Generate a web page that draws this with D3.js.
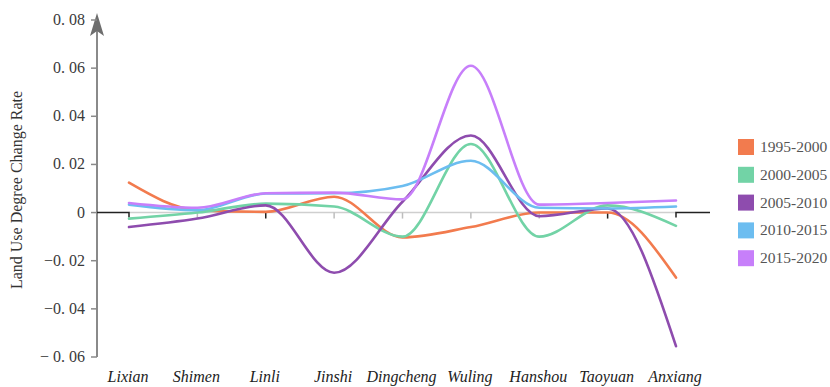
<!DOCTYPE html>
<html>
<head>
<meta charset="utf-8">
<script src="https://cdn.jsdelivr.net/npm/d3@7"></script>
<style>
  body { margin: 0; background: #fff; }
  text { font-family: "Liberation Serif", "DejaVu Serif", serif; }
</style>
</head>
<body>
<svg id="chart" width="830" height="387"></svg>
<script>
const counties = ['Lixian', 'Shimen', 'Linli', 'Jinshi', 'Dingcheng', 'Wuling', 'Hanshou', 'Taoyuan', 'Anxiang'];
const periods = ['1995-2000', '2000-2005', '2005-2010', '2010-2015', '2015-2020'];
const colors = ['#f27b4e', '#72d3a6', '#8e4cae', '#6cbdf0', '#c77ffa'];

const r1995 = [0.0124, 0.001, 0.0003, 0.0066, -0.0103, -0.006, 0.0, 0.0, -0.027];
const r2000 = [-0.0025, 0.0, 0.0037, 0.0025, -0.0100, 0.0285, -0.0100, 0.003, -0.0055];
const r2005 = [-0.006, -0.0025, 0.003, -0.025, 0.0045, 0.032, -0.0015, 0.0017, -0.0555];
const r2010 = [0.0033, 0.001, 0.0079, 0.008, 0.011, 0.0215, 0.002, 0.0017, 0.0025];
const r2015 = [0.004, 0.002, 0.008, 0.0083, 0.0055, 0.061, 0.0033, 0.004, 0.005];
const series = [r1995, r2000, r2005, r2010, r2015];

const yTicks = [0.08, 0.06, 0.04, 0.02, 0, -0.02, -0.04, -0.06];
const yTickLabels = ['0. 08', '0. 06', '0. 04', '0. 02', '0', '\u22120. 02', '\u22120. 04', '\u2212 0. 06'];

const svg = d3.select('#chart');

const x = d3.scalePoint().domain(counties).range([129, 676]);
const y = d3.scaleLinear().domain([-0.06, 0.08]).range([357, 20]);

// y axis line with arrow
const axisX = 97;
svg.append('line')
  .attr('x1', axisX).attr('x2', axisX)
  .attr('y1', 357).attr('y2', 30)
  .attr('stroke', '#8a8a8a').attr('stroke-width', 2);
svg.append('path')
  .attr('d', `M${axisX},13 L${axisX - 7},36 L${axisX},31 L${axisX + 7},36 Z`)
  .attr('fill', '#6e6e6e');

// y ticks and labels
yTicks.forEach((t, i) => {
  svg.append('line')
    .attr('x1', axisX - 6).attr('x2', axisX)
    .attr('y1', y(t)).attr('y2', y(t))
    .attr('stroke', '#8a8a8a').attr('stroke-width', 1.5);
  svg.append('text')
    .attr('x', 85).attr('y', y(t) + 5)
    .attr('text-anchor', 'end')
    .attr('font-size', 16)
    .attr('fill', '#3a3a3a')
    .text(yTickLabels[i]);
});

// zero line
const y0 = y(0);
svg.append('line')
  .attr('x1', x(counties[0])).attr('x2', x(counties[counties.length - 1]))
  .attr('y1', y0).attr('y2', y0)
  .attr('stroke', '#cfcfcf').attr('stroke-width', 1.5);
svg.append('path')
  .attr('d', `M${axisX},${y0} H${x(counties[0])} V${y0 + 5}`)
  .attr('fill', 'none').attr('stroke', '#222').attr('stroke-width', 1.5);
svg.append('path')
  .attr('d', `M${x(counties[counties.length - 1])},${y0 + 5} V${y0} H${x(counties[counties.length - 1]) + 34}`)
  .attr('fill', 'none').attr('stroke', '#222').attr('stroke-width', 1.5);

counties.slice(1, -1).forEach(c => {
  const dark = c === 'Linli' || c === 'Taoyuan';
  svg.append('line')
    .attr('x1', x(c)).attr('x2', x(c))
    .attr('y1', y0).attr('y2', y0 + 6)
    .attr('stroke', dark ? '#222' : '#bdbdbd').attr('stroke-width', 1.5);
});

// curves
const line = d3.line()
  .x((d, i) => x(counties[i]))
  .y(d => y(d))
  .curve(d3.curveMonotoneX);

series.forEach((s, i) => {
  svg.append('path')
    .datum(s)
    .attr('d', line)
    .attr('fill', 'none')
    .attr('stroke', colors[i])
    .attr('stroke-width', 2.6)
    .attr('stroke-linecap', 'round');
});

// x labels
counties.forEach(c => {
  svg.append('text')
    .attr('x', x(c) - 1).attr('y', 382)
    .attr('text-anchor', 'middle')
    .attr('font-size', 16)
    .attr('font-style', 'italic')
    .attr('fill', '#222')
    .text(c);
});

// y title
svg.append('text')
  .attr('transform', 'translate(22,190) rotate(-90)')
  .attr('text-anchor', 'middle')
  .attr('font-size', 16)
  .attr('fill', '#333')
  .text('Land Use Degree Change Rate');

// legend
periods.forEach((p, i) => {
  const ly = 139 + i * 27.8;
  svg.append('rect')
    .attr('x', 738).attr('y', ly)
    .attr('width', 16).attr('height', 16)
    .attr('fill', colors[i]);
  svg.append('text')
    .attr('x', 760).attr('y', ly + 13)
    .attr('font-size', 15.5)
    .attr('fill', '#555')
    .text(p);
});
</script>
</body>
</html>
